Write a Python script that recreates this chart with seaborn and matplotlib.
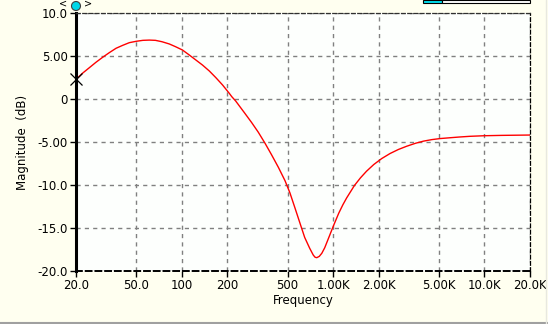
import matplotlib
matplotlib.use("Agg")
import matplotlib.pyplot as plt
import matplotlib.patches as mpatches
import matplotlib.lines as mlines
import numpy as np
import pandas as pd
import seaborn as sns

# Data
freq_hz = [20, 22.1, 24.5, 27.1, 30.0, 33.2, 36.8, 40.7, 45.0, 50.0, 55.3, 61, 67,
           74, 82.7, 91, 101, 112, 124, 137, 152, 168, 186, 206, 214, 227, 261,
           289, 320, 355, 391, 435, 481, 518, 558, 603, 649, 700, 739, 760, 780,
           810, 842, 880, 932, 1000, 1090, 1160, 1229, 1384, 1516, 1662, 1856, 2093,
           2378, 2700, 3066, 3500, 3955, 4500, 5100, 5980, 6830, 8000, 10000,
           13000, 20000]
magnitude_db = [2.28, 3.0, 3.64, 4.27, 4.85, 5.39, 5.9, 6.24, 6.55, 6.71, 6.82, 6.85,
                6.82, 6.66, 6.4, 6.08, 5.7, 5.12, 4.53, 3.95, 3.26, 2.48, 1.63, 0.66,
                0.27, -0.23, -1.66, -2.72, -3.85, -5.15, -6.45, -7.95, -9.5, -10.9,
                -12.6, -14.4, -16.1, -17.35, -18.14, -18.4, -18.45, -18.3, -17.94,
                -17.3, -16.2, -14.84, -13.27, -12.3, -11.5, -10.05, -9.17, -8.4, -7.62,
                -6.93, -6.34, -5.87, -5.49, -5.15, -4.9, -4.72, -4.6, -4.5, -4.42,
                -4.34, -4.27, -4.23, -4.19]

x_ticks = [20, 50, 100, 200, 500, 1000, 2000, 5000, 10000, 20000]
x_tick_labels = ["20.0", "50.0", "100", "200", "500", "1.00K", "2.00K", "5.00K", "10.0K", "20.0K"]
y_ticks = [-20, -15, -10, -5, 0, 5, 10]
y_tick_labels = ["-20.0", "-15.0", "-10.0", "-5.00", "0", "5.00", "10.0"]

df = pd.DataFrame({"Frequency": freq_hz, "Magnitude": magnitude_db})

sns.set_theme(style="white")
plt.rcParams["font.family"] = ["DejaVu Sans"]

fig = plt.figure(figsize=(5.48, 3.24), dpi=100, facecolor="#FFFFF0")
ax = fig.add_axes([76/548, 1-271/324, (530-76)/548, (271-13)/324])
ax.set_facecolor("#FDFFFD")

sns.lineplot(data=df, x="Frequency", y="Magnitude", ax=ax, color="#FF0000",
             linewidth=1.0, legend=False)
ax.set_xscale("log")
ax.set_xlim(20, 20000)
ax.set_ylim(-20, 10)

ax.set_xticks(x_ticks)
ax.set_xticklabels(x_tick_labels)
ax.xaxis.set_minor_locator(matplotlib.ticker.NullLocator())
ax.set_yticks(y_ticks)
ax.set_yticklabels(y_tick_labels)
ax.set_yticks(np.arange(-20, 11, 1), minor=True)

ax.tick_params(axis="both", which="major", labelsize=8.5, colors="black",
               length=4, width=1, direction="out", pad=2)
ax.tick_params(axis="y", which="minor", length=3, width=1, direction="out", color="black")
ax.tick_params(axis="x", which="major", bottom=True, length=4)
ax.tick_params(axis="y", which="major", left=True)

ax.grid(True, which="major", color="#808080", linestyle=(0, (3, 3)), linewidth=1)

for s in ["top", "right", "bottom"]:
    ax.spines[s].set_visible(True)
    ax.spines[s].set_color("black")
    ax.spines[s].set_linestyle((0, (3, 2)))
    ax.spines[s].set_linewidth(0.9)
ax.spines["bottom"].set_linewidth(1.4)
ax.spines["top"].set_color("#303030")
ax.spines["left"].set_color("black")
ax.spines["left"].set_linewidth(2.2)

ax.set_xlabel("Frequency", fontsize=8.5, labelpad=1, color="black")
ax.set_ylabel("Magnitude  (dB)", fontsize=8.5, labelpad=6, color="black")

# cursor marker at start of curve
ax.plot([freq_hz[0]], [magnitude_db[0]], marker="x", color="black",
        markersize=8, markeredgewidth=0.9, clip_on=False, zorder=5)

# cursor handle at top-left
fig.patches.append(mpatches.Circle((76, 324-6), 4.5,
                                   transform=None, facecolor="#00D8E8",
                                   edgecolor="#404040", linewidth=0.8))
fig.text(63/548, 1-4/324, "<", fontsize=7, va="center", ha="center", color="black")
fig.text(88/548, 1-4/324, ">", fontsize=7, va="center", ha="center", color="black")

# legend box fragment at top-right
fig.patches.append(mpatches.Rectangle((423/548, 1-3/324), 19/548, 3/324,
                                      transform=fig.transFigure, facecolor="#00E0F0",
                                      edgecolor="black", linewidth=0.8))
fig.patches.append(mpatches.Rectangle((442/548, 1-3/324), 88/548, 3/324,
                                      transform=fig.transFigure, facecolor="white",
                                      edgecolor="black", linewidth=0.8))

# window border lines
fig.lines.append(mlines.Line2D([0, 1], [1.5/324, 1.5/324], transform=fig.transFigure,
                               color="#A0A0A0", linewidth=1.5))
fig.lines.append(mlines.Line2D([545.5/548, 545.5/548], [0, 1], transform=fig.transFigure,
                               color="#E8E8E0", linewidth=1))

fig.savefig("out.png", dpi=100, facecolor=fig.get_facecolor())
